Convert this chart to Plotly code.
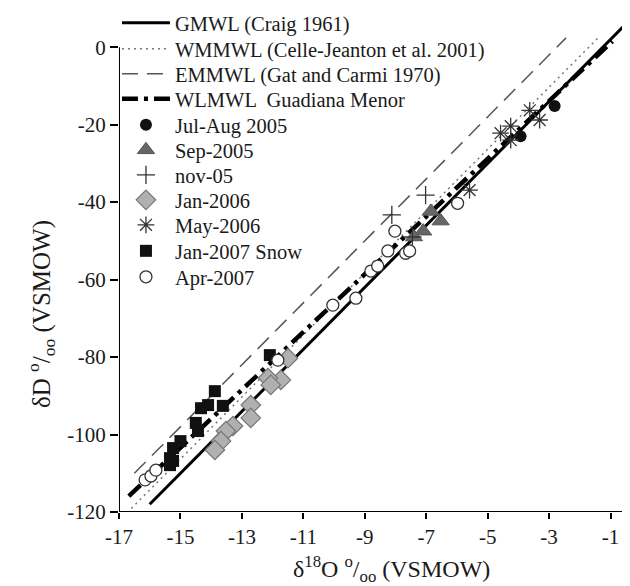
import plotly.graph_objects as go

# ---- Meteoric water lines (endpoints) ----
gmwl_x = [-16.0, -0.55]
gmwl_y = [-118.0, 5.6]
wmmwl_x = [-16.6, -1.42]
wmmwl_y = [-119.1, 2.3]
emmwl_x = [-16.5, -2.45]
emmwl_y = [-110.0, 2.4]
wlmwl_x = [-16.68, -0.94]
wlmwl_y = [-115.9, 1.5]

# ---- Samples ----
julaug05_x = [-2.82, -3.93]
julaug05_y = [-15.2, -23.0]

sep05_x = [-6.53, -6.85, -7.1, -7.4]
sep05_y = [-44.9, -42.4, -47.5, -49.0]

nov05_x = [-7.02, -8.12, -7.45]
nov05_y = [-38.2, -43.3, -49.0]

jan06_x = [-11.5, -11.73, -12.15, -12.06, -12.71, -12.71, -13.29, -13.52, -13.68, -13.88]
jan06_y = [-80.3, -85.9, -85.4, -87.2, -92.4, -95.7, -97.8, -99.1, -101.7, -104.0]

may06_x = [-3.63, -3.31, -4.25, -4.58, -4.25, -5.59]
may06_y = [-16.3, -18.8, -20.4, -22.2, -24.0, -36.9]

jan07_x = [-12.09, -13.88, -14.1, -14.33, -13.62, -14.5, -14.43, -15.0, -15.24, -15.34, -15.24, -15.34]
jan07_y = [-79.5, -88.8, -92.4, -93.2, -92.6, -97.0, -99.1, -101.7, -103.5, -106.1, -106.8, -107.9]

apr07_x = [-16.15, -15.96, -15.8, -11.83, -10.04, -9.29, -8.8, -8.58, -8.25, -7.67, -8.02, -7.54, -5.98]
apr07_y = [-111.7, -110.7, -109.2, -80.8, -66.6, -64.8, -57.8, -56.5, -52.6, -53.2, -47.5, -52.6, -40.3]

x_ticks = [-17, -15, -13, -11, -9, -7, -5, -3, -1]
y_ticks = [0, -20, -40, -60, -80, -100, -120]

x_title = "δ<sup>18</sup>O <sup>o</sup>/<sub>oo</sub> (VSMOW)"
y_title = "δD <sup>o</sup>/<sub>oo</sub> (VSMOW)"

FONT = "Liberation Serif"
TXT = "#1a1a1a"
W, H = 630, 586
ML, MR, MT, MB = 111, 9, 2, 82
PLOT_W = W - ML - MR
PLOT_H = H - MT - MB

fig = go.Figure()

traces = [
    go.Scatter(x=gmwl_x, y=gmwl_y, mode="lines", name="GMWL (Craig 1961)",
               line=dict(color="black", width=3)),
    go.Scatter(x=wmmwl_x, y=wmmwl_y, mode="lines", name="WMMWL (Celle-Jeanton et al. 2001)",
               line=dict(color="#777777", width=1.5, dash="2px,4px")),
    go.Scatter(x=emmwl_x, y=emmwl_y, mode="lines", name="EMMWL (Gat and Carmi 1970)",
               line=dict(color="#555555", width=1.5, dash="16px,9px")),
    go.Scatter(x=wlmwl_x, y=wlmwl_y, mode="lines", name="WLMWL  Guadiana Menor",
               line=dict(color="black", width=4.5, dash="16px,6px,4px,6px")),
    go.Scatter(x=julaug05_x, y=julaug05_y, mode="markers", name="Jul-Aug 2005",
               marker=dict(symbol="circle", size=12, color="#111111")),
    go.Scatter(x=sep05_x, y=sep05_y, mode="markers", name="Sep-2005",
               marker=dict(symbol="triangle-up", size=15, color="#666666",
                           line=dict(color="#555555", width=1))),
    go.Scatter(x=nov05_x, y=nov05_y, mode="markers", name="nov-05",
               marker=dict(symbol="cross-thin-open", size=13, color="#333333",
                           line=dict(color="#333333", width=1.3))),
    go.Scatter(x=jan06_x, y=jan06_y, mode="markers", name="Jan-2006",
               marker=dict(symbol="diamond", size=15, color="#b0b0b0",
                           line=dict(color="#777777", width=1.2))),
    go.Scatter(x=may06_x, y=may06_y, mode="markers", name="May-2006",
               marker=dict(symbol="asterisk-open", size=14, color="#333333",
                           line=dict(color="#333333", width=1.3))),
    go.Scatter(x=jan07_x, y=jan07_y, mode="markers", name="Jan-2007 Snow",
               marker=dict(symbol="square", size=12, color="#111111")),
    go.Scatter(x=apr07_x, y=apr07_y, mode="markers", name="Apr-2007",
               marker=dict(symbol="circle", size=12, color="white",
                           line=dict(color="#333333", width=1.3))),
]

# one legend box per entry so that rows sit at the reference spacing
row_px = [15, 41, 66, 91, 117, 142, 167, 192, 217, 243, 269]
legend_layout = {}
for i, tr in enumerate(traces):
    key = "legend" if i == 0 else f"legend{i + 1}"
    tr.legend = key
    fig.add_trace(tr)
    legend_layout[key] = dict(
        x=-0.004, xanchor="left",
        y=1 - (row_px[i] - MT) / PLOT_H, yanchor="middle",
        bgcolor="rgba(0,0,0,0)", itemwidth=48,
        font=dict(family=FONT, size=20.5, color=TXT),
    )

XMAX = -0.4
YMAX = 9.6
# axis lines drawn as shapes so that the water lines may extend above 0
fig.add_shape(type="line", xref="x", yref="y", x0=-17, x1=XMAX, y0=-120, y1=-120,
              line=dict(color="black", width=2))
fig.add_shape(type="line", xref="x", yref="y", x0=-17, x1=-17, y0=-120, y1=0,
              line=dict(color="black", width=2))

# axis titles
fig.add_annotation(text=y_title, textangle=-90,
                   xref="paper", yref="paper", x=-(ML - 33) / PLOT_W,
                   y=1 - (306 - MT) / PLOT_H, xanchor="center", yanchor="middle",
                   showarrow=False, font=dict(family=FONT, size=25, color=TXT))
fig.add_annotation(text=x_title,
                   xref="paper", yref="paper", x=(383 - ML) / PLOT_W,
                   y=-(542 - (H - MB)) / PLOT_H, xanchor="center", yanchor="top",
                   showarrow=False, font=dict(family=FONT, size=24, color=TXT))

fig.update_layout(
    width=W, height=H,
    margin=dict(l=ML, r=MR, t=MT, b=MB, autoexpand=False),
    paper_bgcolor="white", plot_bgcolor="white",
    font=dict(family=FONT, size=21, color="black"),
    showlegend=True,
    xaxis=dict(range=[-17, XMAX], tickvals=x_ticks, ticktext=[str(v) for v in x_ticks],
               showgrid=False, zeroline=False, showline=False, automargin=False,
               ticks="outside", ticklen=6, tickwidth=2, tickcolor="black",
               tickfont=dict(family=FONT, size=21, color=TXT)),
    yaxis=dict(range=[-120, YMAX], tickvals=y_ticks, ticktext=[str(v) for v in y_ticks],
               showgrid=False, zeroline=False, showline=False, automargin=False,
               ticks="outside", ticklen=8, tickwidth=2, tickcolor="black",
               tickfont=dict(family=FONT, size=21, color=TXT)),
    **legend_layout,
)

fig.write_html("out.html")
